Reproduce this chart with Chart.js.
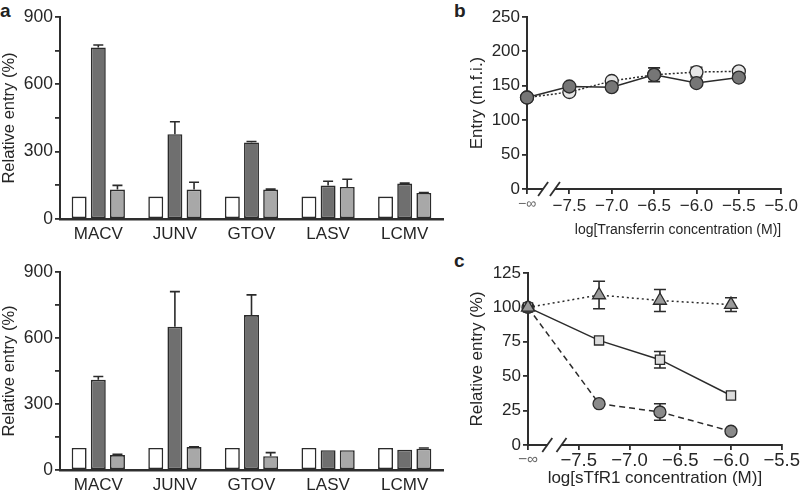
<!DOCTYPE html>
<html lang="en">
<head>
<meta charset="UTF-8">
<script src="https://cdn.jsdelivr.net/npm/chart.js@4.4.0/dist/chart.umd.min.js"></script>
<title>Arenavirus entry</title>
<style>
  body { margin: 0; width: 800px; height: 495px; position: relative; overflow: hidden; background: #fff;
         font-family: "Liberation Sans", Arial, sans-serif; }
  .panel { position: absolute; }
  .tag { position: absolute; font-weight: bold; font-size: 19px; line-height: 19px; color: #222; }
</style>
</head>
<body>
<div class="tag" style="left:0;top:1px">a</div>
<div class="tag" style="left:454px;top:1px">b</div>
<div class="tag" style="left:454px;top:251px">c</div>

<div class="panel" style="left:0;top:0;width:452px;height:248px"><canvas id="aTop"></canvas></div>
<div class="panel" style="left:0;top:248px;width:452px;height:247px"><canvas id="aBot"></canvas></div>
<div class="panel" style="left:452px;top:0;width:348px;height:248px"><canvas id="bChart"></canvas></div>
<div class="panel" style="left:452px;top:248px;width:348px;height:247px"><canvas id="cChart"></canvas></div>

<script>
// ---- panel a ----
const viruses = ['MACV', 'JUNV', 'GTOV', 'LASV', 'LCMV'];

const topCtrl     = [100, 100, 100, 100, 100];
const topDark     = [764, 378, 341, 149, 158];
const topDarkErr  = [11, 55, 4, 19, 2];
const topLight    = [131, 131, 131, 143, 116];
const topLightErr = [19, 33, 2, 34, 2];

const botCtrl     = [100, 100, 100, 100, 100];
const botDark     = [410, 651, 704, 90, 92];
const botDarkErr  = [15, 160, 92, 0, 0];
const botLight    = [68, 104, 63, 90, 97];
const botLightErr = [3, 2, 16, 0, 3];

// ---- panel b ----  (-8 stands for -infinity, i.e. no transferrin)
const tfConc      = [-8, -7.5, -7, -6.5, -6, -5.5];
const tfFilled    = [133, 149, 148, 166, 154, 162];
const tfFilledErr = [0, 0, 0, 10, 0, 0];
const tfOpen      = [133, 141, 157, 166, 170, 171];
const tfOpenErr   = [0, 0, 0, 0, 7, 0];

// ---- panel c ----
const sConc     = [-8, -7.3, -6.7, -6.0];
const triVals   = [100, 109, 105, 102];
const triErr    = [0, 10, 8, 5];
const sqVals    = [100, 76, 62, 36];
const sqErr     = [0, 0, 6, 0];
const circVals  = [100, 30, 24, 10];
const circErr   = [0, 0, 6, 0];

const AXIS = '#2e2e2e';
const EDGE = '#2b2b2b';

Chart.defaults.font.family = '"Liberation Sans", Arial, sans-serif';
Chart.defaults.color = '#262626';
Chart.defaults.animation = false;
Chart.defaults.plugins.legend.display = false;
Chart.defaults.plugins.tooltip.enabled = false;

// error bars going up from the bar tops
const upErrors = {
  id: 'upErrors',
  afterDatasetsDraw(chart) {
    const ctx = chart.ctx, y = chart.scales.y;
    ctx.save();
    ctx.strokeStyle = EDGE;
    ctx.lineWidth = 1.6;
    chart.data.datasets.forEach((ds, di) => {
      if (!ds.errors) return;
      chart.getDatasetMeta(di).data.forEach((bar, i) => {
        const e = ds.errors[i];
        if (!e) return;
        const yTop = y.getPixelForValue(ds.data[i] + e);
        ctx.beginPath();
        ctx.moveTo(bar.x, bar.y);
        ctx.lineTo(bar.x, yTop);
        ctx.moveTo(bar.x - 5, yTop);
        ctx.lineTo(bar.x + 5, yTop);
        ctx.stroke();
      });
    });
    ctx.restore();
  }
};

// symmetric error bars behind the markers
const bothErrors = {
  id: 'bothErrors',
  beforeDatasetsDraw(chart) {
    const ctx = chart.ctx, x = chart.scales.x, y = chart.scales.y;
    ctx.save();
    ctx.strokeStyle = EDGE;
    ctx.lineWidth = 1.6;
    chart.data.datasets.forEach(ds => {
      if (!ds.errors) return;
      ds.data.forEach((p, i) => {
        const e = ds.errors[i];
        if (!e) return;
        const px = x.getPixelForValue(p.x);
        const y1 = y.getPixelForValue(p.y + e), y2 = y.getPixelForValue(p.y - e);
        ctx.beginPath();
        ctx.moveTo(px, y1); ctx.lineTo(px, y2);
        ctx.moveTo(px - 6, y1); ctx.lineTo(px + 6, y1);
        ctx.moveTo(px - 6, y2); ctx.lineTo(px + 6, y2);
        ctx.stroke();
      });
    });
    ctx.restore();
  }
};

// the // break on the x axis between -inf and the first tick
const axisBreak = {
  id: 'axisBreak',
  afterDraw(chart) {
    const ctx = chart.ctx, x = chart.scales.x;
    const y0 = chart.chartArea.bottom;
    const c1 = x.getPixelForValue(-7.81), c2 = x.getPixelForValue(-7.67);
    ctx.save();
    ctx.fillStyle = '#fff';
    ctx.fillRect(c1, y0 - 2, c2 - c1, 4);
    ctx.strokeStyle = AXIS;
    ctx.lineWidth = 1.8;
    [c1, c2].forEach(c => {
      ctx.beginPath();
      ctx.moveTo(c - 5, y0 + 7);
      ctx.lineTo(c + 5, y0 - 7);
      ctx.stroke();
    });
    ctx.restore();
  }
};

function barPanel(id, ctrl, dark, darkErr, light, lightErr, padTop, xHeight) {
  const common = { borderColor: EDGE, borderWidth: 1.6, borderSkipped: false,
                   categoryPercentage: 0.75, barPercentage: 0.78 };
  new Chart(document.getElementById(id), {
    type: 'bar',
    data: {
      labels: viruses,
      datasets: [
        Object.assign({ data: ctrl, backgroundColor: '#ffffff' }, common),
        Object.assign({ data: dark, errors: darkErr, backgroundColor: '#6f6f6f' }, common),
        Object.assign({ data: light, errors: lightErr, backgroundColor: '#a8a8a8' }, common)
      ]
    },
    options: {
      responsive: true, maintainAspectRatio: false,
      layout: { padding: { top: padTop, right: 9, left: 0, bottom: 0 } },
      scales: {
        x: {
          grid: { display: false, drawTicks: false, tickLength: 0 },
          border: { color: AXIS, width: 2.5 },
          ticks: { font: { size: 17 }, padding: 5 },
          afterFit(s) { s.height = xHeight; }
        },
        y: {
          min: 0, max: 900,
          ticks: { stepSize: 150, font: { size: 17.5 }, padding: 2,
                   callback: v => (v % 300 === 0 ? v : '') },
          grid: { drawOnChartArea: false, tickLength: 5, color: AXIS, lineWidth: 1.8 },
          border: { color: AXIS, width: 2 },
          title: { display: true, text: 'Relative entry (%)', font: { size: 16.5 }, padding: { top: 0, bottom: 0 } },
          afterFit(s) { s.width = 60; }
        }
      }
    },
    plugins: [upErrors]
  });
}

barPanel('aTop', topCtrl, topDark, topDarkErr, topLight, topLightErr, 17, 29);
barPanel('aBot', botCtrl, botDark, botDarkErr, botLight, botLightErr, 24, 25);

const pts = (xs, ys) => xs.map((x, i) => ({ x: x, y: ys[i] }));
const logTick = v => (v === -8 ? '\u2212\u221e' : '\u2212' + Math.abs(v).toFixed(1));

function linePanel(id, datasets, xMax, yMax, yStep, yTitle, xTitle, opt) {
  new Chart(document.getElementById(id), {
    type: 'line',
    data: { datasets: datasets },
    options: {
      responsive: true, maintainAspectRatio: false,
      layout: { padding: { top: opt.top, right: opt.right, left: 0, bottom: 0 } },
      scales: {
        x: {
          type: 'linear', min: -8, max: xMax,
          ticks: {
            stepSize: 0.5, padding: opt.tickPad, callback: logTick,
            font: c => ({ size: c.tick && c.tick.value === -8 ? opt.xTickSize - 3 : opt.xTickSize }),
            color: c => (c.tick && c.tick.value === -8 ? '#666' : '#262626')
          },
          grid: { drawOnChartArea: false, tickLength: 5, color: AXIS, lineWidth: 1.8 },
          border: { color: AXIS, width: 2 },
          title: { display: true, text: xTitle, align: opt.titleAlign, font: { size: opt.xTitleSize },
                   padding: { top: 0, bottom: opt.titlePad } },
          afterFit(s) { s.height = opt.xHeight; }
        },
        y: {
          min: 0, max: yMax,
          ticks: { stepSize: yStep, font: { size: 17 }, padding: 2 },
          grid: { drawOnChartArea: false, tickLength: 5, color: AXIS, lineWidth: 1.8 },
          border: { color: AXIS, width: 2 },
          title: { display: true, text: yTitle, font: { size: 17 }, padding: { top: 15, bottom: 0 } },
          afterFit(s) { s.width = opt.yWidth; }
        }
      }
    },
    plugins: [bothErrors, axisBreak]
  });
}

const mark = { borderColor: EDGE, pointBorderColor: EDGE, borderWidth: 1.5, pointBorderWidth: 1.3, clip: false, tension: 0 };

linePanel('bChart', [
  Object.assign({ data: pts(tfConc, tfFilled), errors: tfFilledErr, pointRadius: 6.5, pointBackgroundColor: '#767676' }, mark),
  Object.assign({ data: pts(tfConc, tfOpen), errors: tfOpenErr, pointRadius: 6.5, pointBackgroundColor: '#e6e6e6', borderDash: [2, 2] }, mark)
], -5, 250, 50, 'Entry (m.f.i.)', 'log[Transferrin concentration (M)]',
  { top: 17, right: 16, xHeight: 59, yWidth: 75, tickPad: 2, titlePad: 9,
    xTickSize: 17, xTitleSize: 14, titleAlign: 'end' });

linePanel('cChart', [
  Object.assign({ data: pts(sConc, triVals), errors: triErr, pointStyle: 'triangle', pointRadius: 7.5, pointBackgroundColor: '#9a9a9a', borderDash: [2, 3] }, mark),
  Object.assign({ data: pts(sConc, sqVals), errors: sqErr, pointStyle: 'rect', pointRadius: 6.5, pointBackgroundColor: '#dcdcdc' }, mark),
  Object.assign({ data: pts(sConc, circVals), errors: circErr, pointRadius: 6, pointBackgroundColor: '#8a8a8a', borderDash: [6, 4] }, mark)
], -5.5, 125, 25, 'Relative entry (%)', 'log[sTfR1 concentration (M)]',
  { top: 25, right: 17, xHeight: 50, yWidth: 76, tickPad: 0, titlePad: 6,
    xTickSize: 18.5, xTitleSize: 17, titleAlign: 'center' });
</script>
</body>
</html>
